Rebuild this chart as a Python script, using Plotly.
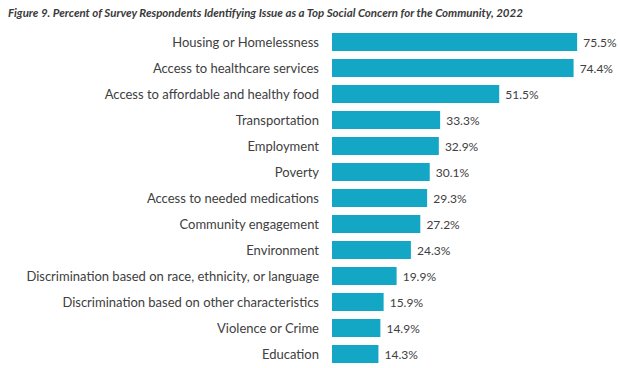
import plotly.graph_objects as go

issues = [
    "Housing or Homelessness",
    "Access to healthcare services",
    "Access to affordable and healthy food",
    "Transportation",
    "Employment",
    "Poverty",
    "Access to needed medications",
    "Community engagement",
    "Environment",
    "Discrimination based on race, ethnicity, or language",
    "Discrimination based on other characteristics",
    "Violence or Crime",
    "Education",
]
percents = [75.5, 74.4, 51.5, 33.3, 32.9, 30.1, 29.3, 27.2, 24.3, 19.9, 15.9, 14.9, 14.3]

title_text = "Figure 9. Percent of Survey Respondents Identifying Issue as a Top Social Concern for the Community, 2022"

FONT = "Lato, Open Sans, sans-serif"

fig = go.Figure(
    go.Bar(
        x=percents,
        y=issues,
        orientation="h",
        marker=dict(color="#14A7C5", line=dict(width=0)),
        text=[f" {v:.1f}%" for v in percents],
        textposition="outside",
        textfont=dict(family=FONT, size=12, color="#404040"),
        cliponaxis=False,
        width=0.7,
    )
)

fig.update_layout(
    width=618,
    height=368,
    margin=dict(l=332, r=10, t=29, b=1),
    paper_bgcolor="white",
    plot_bgcolor="white",
    showlegend=False,
    title=dict(
        text="<b><i>" + title_text + "</i></b>",
        x=8 / 618, xref="container", xanchor="left",
        y=1 - 13 / 368, yref="container", yanchor="middle",
        font=dict(family=FONT, size=11.5, color="#3a3a3a"),
    ),
)

fig.update_xaxes(range=[0, 85], visible=False, fixedrange=True)
fig.update_yaxes(
    autorange="reversed",
    showline=False,
    showgrid=False,
    ticks="",
    ticklabelstandoff=12,
    tickfont=dict(family=FONT, size=13, color="#404040"),
)

fig.write_html("out.html")
